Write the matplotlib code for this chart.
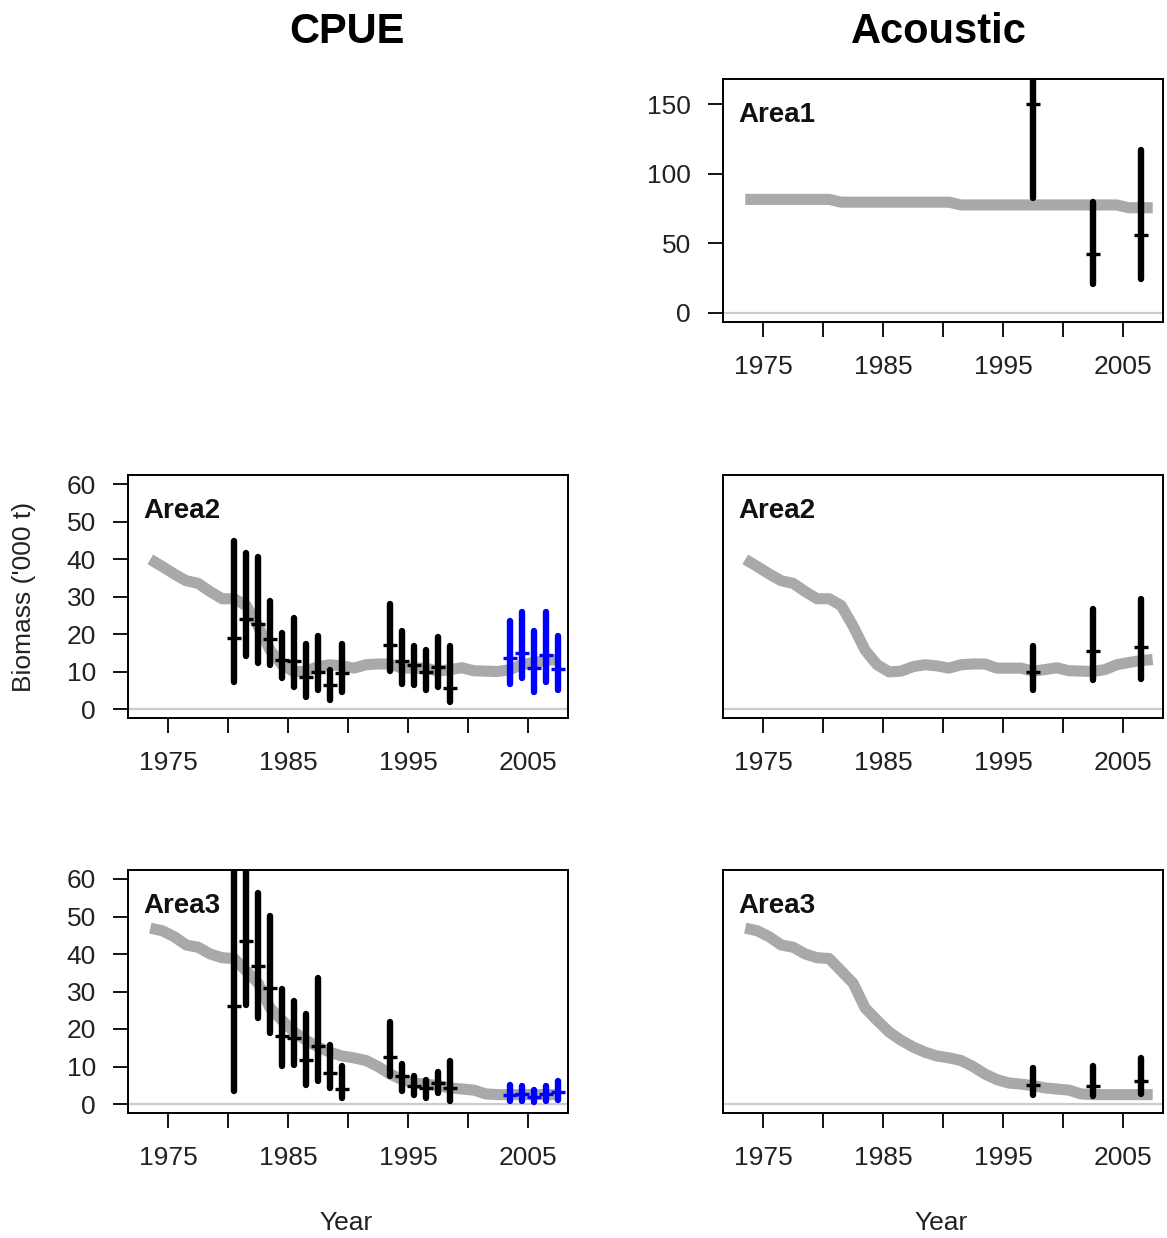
import numpy as np
import matplotlib
matplotlib.use("Agg")
import matplotlib.pyplot as plt

plt.rcParams["font.family"] = ["Liberation Sans", "DejaVu Sans"]

# model biomass ('000 t), mid-year
model_years = np.arange(1973, 2008) + 0.5
area1_biomass = [81.5] * 8 + [79.5] * 10 + [77.5] * 14 + [75.5] * 3
area2_biomass = [39.9, 38.0, 36.0, 34.2, 33.5, 31.3, 29.4, 29.4, 27.6, 22.1,
                 15.7, 11.8, 9.9, 10.1, 11.3, 11.8, 11.5, 10.9, 11.8, 12.0,
                 12.0, 10.9, 10.9, 10.9, 10.1, 10.5, 11.0, 10.2, 10.1, 10.0,
                 10.5, 11.8, 12.4, 12.9, 13.2]
area3_biomass = [46.9, 46.2, 44.6, 42.4, 41.8, 40.0, 39.0, 38.8, 35.5, 32.2,
                 25.6, 22.3, 19.2, 17.0, 15.2, 13.8, 12.8, 12.3, 11.6, 10.0,
                 8.0, 6.5, 5.6, 5.3, 4.9, 4.3, 4.0, 3.7, 2.7, 2.5,
                 2.5, 2.5, 2.5, 2.5, 2.5]

# CPUE indices (historic in black, recent in blue)
cpue_years = [1980.5, 1981.5, 1982.5, 1983.5, 1984.5, 1985.5, 1986.5, 1987.5,
              1988.5, 1989.5, 1993.5, 1994.5, 1995.5, 1996.5, 1997.5, 1998.5]
cpue_recent_years = [2003.5, 2004.5, 2005.5, 2006.5, 2007.5]

cpue2_est = [19.0, 24.0, 22.6, 18.6, 13.1, 12.7, 8.6, 10.0, 6.4, 9.5,
             17.2, 12.7, 11.8, 10.0, 11.3, 5.5]
cpue2_lo = [7.3, 14.1, 12.3, 11.8, 8.2, 5.9, 3.2, 5.0, 2.4, 4.6,
            10.2, 6.8, 6.4, 5.0, 5.9, 1.9]
cpue2_hi = [44.7, 41.5, 40.6, 28.7, 20.2, 24.4, 17.4, 19.5, 10.4, 17.4,
            28.0, 20.8, 16.8, 15.7, 19.3, 16.8]
cpue2_recent_est = [13.6, 15.0, 10.9, 14.5, 10.7]
cpue2_recent_lo = [6.8, 8.2, 4.6, 7.3, 5.0]
cpue2_recent_hi = [23.5, 25.8, 20.8, 25.8, 19.5]

cpue3_est = [26.1, 43.5, 36.8, 31.0, 18.1, 17.6, 11.8, 15.4, 8.3, 4.1,
             12.5, 7.4, 4.7, 4.3, 5.6, 4.3]
cpue3_lo = [3.4, 26.5, 22.9, 18.9, 10.1, 10.5, 5.2, 6.2, 4.2, 1.6,
            7.4, 3.4, 2.5, 1.6, 2.9, 0.7]
cpue3_hi = [70.0, 75.0, 56.4, 50.2, 30.8, 27.4, 23.9, 33.7, 15.7, 10.1,
            21.9, 10.7, 7.4, 6.5, 8.6, 11.4]
cpue3_recent_est = [2.5, 2.6, 2.0, 2.6, 3.3]
cpue3_recent_lo = [0.7, 0.7, 0.5, 0.9, 1.1]
cpue3_recent_hi = [5.2, 4.7, 3.8, 4.7, 6.1]

# acoustic survey estimates
acoustic_years = [1997.5, 2002.5, 2006.5]
acou1_est = [150.0, 42.3, 55.6]
acou1_lo = [82.7, 20.6, 24.2]
acou1_hi = [185.0, 79.8, 117.3]
acou2_est = [10.0, 15.6, 16.5]
acou2_lo = [5.0, 7.7, 7.9]
acou2_hi = [16.8, 26.6, 29.4]
acou3_est = [5.2, 4.7, 6.2]
acou3_lo = [2.5, 2.1, 2.6]
acou3_hi = [9.6, 10.1, 12.3]

GREY = "#a9a9ab"
ZERO = "#cccccc"
W, H = 1167, 1238
XLIM = (1971.64, 2008.36)


def _box(px_left, px_top, px_w=440, px_h=243):
    return [px_left / W, 1 - (px_top + px_h) / H, px_w / W, px_h / H]


def _panel(fig, rect, biomass, label, ylim, yticks=None):
    ax = fig.add_axes(rect)
    ax.set_xlim(*XLIM)
    ax.set_ylim(*ylim)
    ax.axhline(0, color=ZERO, lw=1.6, zorder=1)
    ax.plot(model_years, biomass, color=GREY, lw=8.0,
            solid_capstyle="butt", solid_joinstyle="round", zorder=2)
    ax.set_xticks(np.arange(1975, 2006, 5))
    ax.set_xticklabels(["1975", "", "1985", "", "1995", "", "2005"])
    ax.tick_params(axis="both", direction="out", length=11, width=1.3,
                   labelsize=19, colors="black", labelcolor="#222222")
    ax.tick_params(axis="x", pad=13)
    ax.tick_params(axis="y", pad=12)
    if yticks is None:
        ax.tick_params(axis="y", left=False, labelleft=False)
    else:
        ax.set_yticks(yticks)
    for s in ax.spines.values():
        s.set_linewidth(1.4)
    ax.text(0.034, 0.85, label, transform=ax.transAxes, fontsize=20,
            fontweight="bold", va="center", ha="left", color="#111111")
    return ax


def _bars(ax, x, est, lo, hi, color):
    bars = ax.vlines(x, lo, hi, color=color, lw=4.6, zorder=3)
    bars.set_capstyle("round")
    ax.plot(x, est, ls="none", marker="_", ms=10.5, mew=2.4, color=color, zorder=4)


fig = plt.figure(figsize=(W / 100, H / 100), dpi=100)

small_ylim = (-2.4, 62.4)
small_ticks = np.arange(0, 61, 10)

# CPUE column
ax = _panel(fig, _box(128, 475), area2_biomass, "Area2", small_ylim, small_ticks)
_bars(ax, cpue_years, cpue2_est, cpue2_lo, cpue2_hi, "black")
_bars(ax, cpue_recent_years, cpue2_recent_est, cpue2_recent_lo, cpue2_recent_hi, "#0000ff")

ax = _panel(fig, _box(128, 870), area3_biomass, "Area3", small_ylim, small_ticks)
_bars(ax, cpue_years, cpue3_est, cpue3_lo, cpue3_hi, "black")
_bars(ax, cpue_recent_years, cpue3_recent_est, cpue3_recent_lo, cpue3_recent_hi, "#0000ff")

# Acoustic column
ax = _panel(fig, _box(723, 79), area1_biomass, "Area1", (-6.6, 168.0),
            [0, 50, 100, 150])
_bars(ax, acoustic_years, acou1_est, acou1_lo, acou1_hi, "black")

ax = _panel(fig, _box(723, 475), area2_biomass, "Area2", small_ylim)
_bars(ax, acoustic_years, acou2_est, acou2_lo, acou2_hi, "black")

ax = _panel(fig, _box(723, 870), area3_biomass, "Area3", small_ylim)
_bars(ax, acoustic_years, acou3_est, acou3_lo, acou3_hi, "black")

# column headings and shared labels
fig.text(347 / W, 1 - 32 / H, "CPUE", fontsize=30, fontweight="bold",
         ha="center", va="center")
fig.text(939 / W, 1 - 32 / H, "Acoustic", fontsize=30, fontweight="bold",
         ha="center", va="center")
fig.text(346 / W, 1 - 1223 / H, "Year", fontsize=19, ha="center", va="center",
         color="#222222")
fig.text(941 / W, 1 - 1223 / H, "Year", fontsize=19, ha="center", va="center",
         color="#222222")
fig.text(24 / W, 1 - 597 / H, "Biomass ('000 t)", fontsize=19, rotation=90,
         ha="center", va="center", color="#222222")

fig.savefig("out.png", dpi=100, facecolor="white")
